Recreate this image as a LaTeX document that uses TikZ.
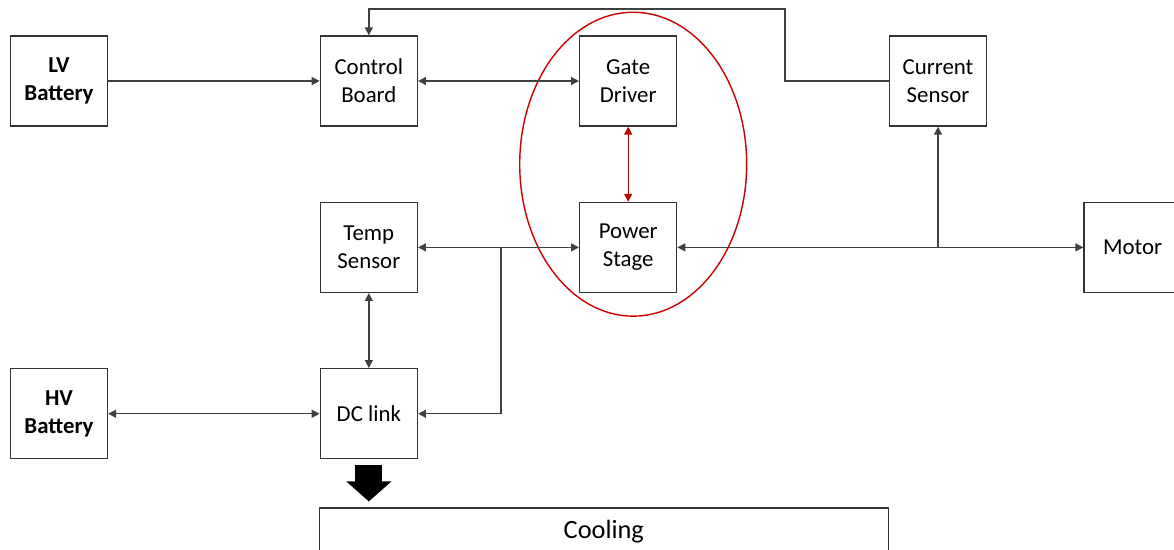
\documentclass[tikz,border=0pt]{standalone}
\usepackage{fontspec}
\setmainfont{Carlito}
\usetikzlibrary{positioning,arrows.meta,calc}

\begin{document}
\begin{tikzpicture}[
  x=0.02cm, y=-0.02cm,
  node distance=1.5cm and 4.23cm,
  box/.style={draw=black!80, line width=0.8pt, align=center, inner sep=0pt, minimum width=1.94cm, minimum height=1.8cm, font=\fontsize{13}{16}\selectfont},
  arr/.style={-{Triangle[length=4.5pt,width=4.5pt]}, line width=0.8pt, draw=black!75},
  darr/.style={arr, {Triangle[length=4.5pt,width=4.5pt]}-{Triangle[length=4.5pt,width=4.5pt]}},
  bigarr/.style={line width=0.54cm, -{Triangle[length=0.4cm,width=0.88cm]}, black},
  redring/.style={draw=red!80!black, line width=0.8pt}
]
\useasboundingbox (0,0) rectangle (1174,549);

\node[box, font=\fontsize{13}{16}\selectfont\bfseries] (lv) at (59,81) {LV\\Battery};
\node[box, right=of lv] (control) {Control\\Board};
\node[box, right=3.22cm of control] (gate) {Gate\\Driver};
\node[box, right=of gate] (current) {Current\\Sensor};

\node[box, below=of control] (temp) {Temp\\Sensor};
\node[box, below=of gate] (power) {Power\\Stage};
\node[box, right=8.12cm of power] (motor) {Motor};

\node[box, below=of temp] (dclink) {DC link};
\node[box, font=\fontsize{13}{16}\selectfont\bfseries] (hv) at (lv |- dclink) {HV\\Battery};

\node[box, minimum width=11.38cm, minimum height=0.92cm, font=\fontsize{15}{18}\selectfont, below right=0.96cm and -0.02cm of dclink.south west] (cooling) {Cooling};

% ring round gate driver and power stage
\draw[redring] ($(gate)!0.5!(power)$) ++(0.1cm,0) ellipse [x radius=2.27cm, y radius=3.04cm];

\coordinate (topbend) at (785,9);
\coordinate (csj) at (current.south |- power.east);
\coordinate (dcj) at (501,248);

\draw[arr] (lv) -- (control);
\draw[darr] (control) -- (gate);
\draw[darr, draw=red!75!black] (gate) -- (power);
\draw[arr] (current.west) -| (topbend) -| (control.north);
\draw[darr] (power) -- (motor);
\draw[arr] (csj) -- (current);
\draw[darr] (temp) -- (power);
\draw[arr] (dcj) |- (dclink.east);
\draw[darr] (temp) -- (dclink);
\draw[darr] (hv) -- (dclink);
\draw[bigarr] ([yshift=-0.12cm]dclink.south) -- ([yshift=0.12cm]dclink.south |- cooling.north);
\end{tikzpicture}
\end{document}
